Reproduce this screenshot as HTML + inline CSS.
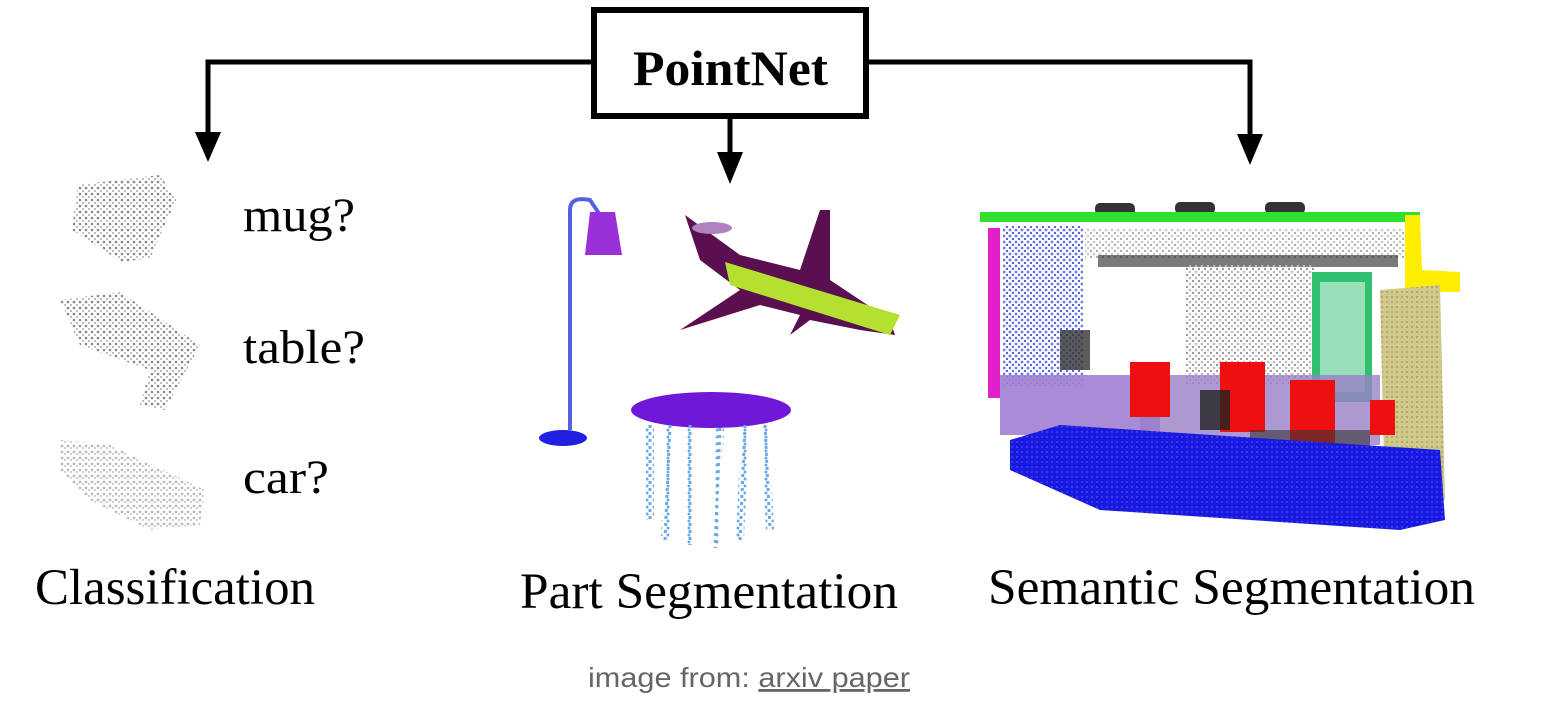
<!DOCTYPE html>
<html><head><meta charset="utf-8"><style>
html,body{margin:0;padding:0;background:#fff;width:1546px;height:716px;overflow:hidden}
svg{position:absolute;left:0;top:0}
.t{font-family:"Liberation Serif",serif;fill:#000}
</style></head><body>
<svg width="1546" height="716" viewBox="0 0 1546 716">
<defs>
<pattern id="dg" width="6" height="6" patternUnits="userSpaceOnUse"><circle cx="2" cy="2" r="1.3" fill="#888"/><circle cx="5" cy="5" r="1" fill="#aaa"/></pattern>
<pattern id="dl" width="6" height="6" patternUnits="userSpaceOnUse"><circle cx="2" cy="2" r="1.4" fill="#bbb"/><circle cx="5" cy="4" r="1.1" fill="#ccc"/></pattern>
<pattern id="blu" width="5" height="5" patternUnits="userSpaceOnUse"><rect width="5" height="5" fill="#1a1adf"/><circle cx="2" cy="2" r="1" fill="#4040ff"/></pattern>
<pattern id="lb" width="6" height="6" patternUnits="userSpaceOnUse"><circle cx="2" cy="2" r="1.4" fill="#6a78e8"/><circle cx="5" cy="5" r="1.2" fill="#5060e0"/></pattern>
<pattern id="gr" width="6" height="6" patternUnits="userSpaceOnUse"><circle cx="2" cy="2" r="1.3" fill="#bbb"/><circle cx="5" cy="5" r="1.2" fill="#999"/></pattern>
<pattern id="ol" width="5" height="5" patternUnits="userSpaceOnUse"><rect width="5" height="5" fill="#cfc98a"/><circle cx="2" cy="2" r="1" fill="#a8a060"/></pattern>
<pattern id="lbl" width="7" height="7" patternUnits="userSpaceOnUse"><circle cx="3" cy="3" r="1.5" fill="#6aa8e8"/></pattern>
</defs>
<g stroke="#000" stroke-width="5" fill="none">
<polyline points="594,62 208,62 208,138"/>
<polyline points="866,62 1250,62 1250,140"/>
<line x1="730" y1="116" x2="730" y2="158"/>
</g>
<polygon points="195,132 221,132 208,162" fill="#000"/>
<polygon points="1237,134 1263,134 1250,165" fill="#000"/>
<polygon points="717,152 743,152 730,184" fill="#000"/>
<rect x="594" y="10" width="272" height="106" fill="#fff" stroke="#000" stroke-width="6"/>
<text x="633" y="85" class="t" font-size="50" font-weight="bold" textLength="195" lengthAdjust="spacingAndGlyphs">PointNet</text>
<path d="M78,185 L160,175 L176,200 L150,258 L122,262 L72,230 Z" fill="url(#dg)"/>
<path d="M60,300 L120,292 L200,345 L165,410 L140,405 L150,370 L80,345 Z" fill="url(#dg)"/>
<path d="M60,440 L110,445 L205,490 L200,525 L150,530 L90,500 L60,470 Z" fill="url(#dl)"/>
<text x="243" y="231" class="t" font-size="48" textLength="112" lengthAdjust="spacingAndGlyphs">mug?</text>
<text x="243" y="363" class="t" font-size="48" textLength="122" lengthAdjust="spacingAndGlyphs">table?</text>
<text x="243" y="493" class="t" font-size="48" textLength="86" lengthAdjust="spacingAndGlyphs">car?</text>
<text x="35" y="604" class="t" font-size="51" textLength="280" lengthAdjust="spacingAndGlyphs">Classification</text>
<path d="M570,430 L570,210 Q570,196 590,200 L600,215" stroke="#5560e0" stroke-width="4" fill="none"/>
<path d="M590,212 L615,212 L622,255 L585,255 Z" fill="#9a30d8"/>
<ellipse cx="563" cy="438" rx="24" ry="8" fill="#2020e0"/>
<path d="M685,215 L740,255 L800,270 L820,210 L830,210 L830,280 L890,320 L895,335 L860,330 L810,320 L790,335 L800,315 L760,305 L680,330 L740,290 L700,260 Z" fill="#5a1050"/>
<path d="M725,262 L900,315 L890,335 L730,285 Z" fill="#b4e030"/>
<ellipse cx="712" cy="228" rx="20" ry="6" fill="#b080c0"/>
<ellipse cx="711" cy="410" rx="80" ry="18" fill="#7018d8"/>
<path d="M650,425 L650,520 M670,425 L665,540 M690,425 L690,545 M720,428 L715,548 M745,425 L740,540 M765,425 L770,530" stroke="url(#lbl)" stroke-width="8" fill="none"/>
<g stroke="#6aa8e8" stroke-width="3" stroke-dasharray="3,4" fill="none"><path d="M650,425 L650,520 M670,425 L665,540 M690,425 L690,545 M720,428 L715,548 M745,425 L740,540 M765,425 L770,530"/></g>
<text x="520" y="608" class="t" font-size="51" textLength="378" lengthAdjust="spacingAndGlyphs">Part Segmentation</text>
<rect x="1095" y="203" width="40" height="12" rx="5" fill="#333"/>
<rect x="1175" y="202" width="40" height="12" rx="5" fill="#333"/>
<rect x="1265" y="202" width="40" height="12" rx="5" fill="#333"/>
<rect x="980" y="212" width="440" height="10" fill="#30e030"/>
<path d="M1405,215 L1420,215 L1422,270 L1460,272 L1460,292 L1405,292 Z" fill="#ffee00"/>
<rect x="988" y="228" width="12" height="170" fill="#e020c8"/>
<rect x="1003" y="226" width="80" height="160" fill="url(#lb)"/>
<rect x="1085" y="228" width="320" height="30" fill="url(#gr)" opacity="0.8"/>
<rect x="1098" y="255" width="300" height="12" fill="#222" opacity="0.6"/>
<rect x="1185" y="265" width="130" height="120" fill="url(#gr)"/>
<rect x="1312" y="272" width="60" height="130" fill="#30c070"/>
<rect x="1320" y="282" width="45" height="110" fill="#fff" opacity="0.5"/>
<path d="M1380,290 L1440,285 L1445,500 L1385,505 Z" fill="url(#ol)"/>
<rect x="1000" y="375" width="160" height="60" fill="#a080d0" opacity="0.9"/>
<rect x="1140" y="375" width="240" height="70" fill="#9a80c8" opacity="0.8"/>
<rect x="1130" y="362" width="40" height="55" fill="#ee1010"/>
<rect x="1220" y="362" width="45" height="70" fill="#ee1010"/>
<rect x="1290" y="380" width="45" height="65" fill="#ee1010"/>
<rect x="1370" y="400" width="25" height="35" fill="#ee1010"/>
<rect x="1060" y="330" width="30" height="40" fill="#333" opacity="0.8"/>
<rect x="1200" y="390" width="30" height="40" fill="#222" opacity="0.8"/>
<rect x="1250" y="430" width="120" height="20" fill="#333" opacity="0.6"/>
<path d="M1010,440 L1060,425 L1440,450 L1445,520 L1400,530 L1100,510 L1010,470 Z" fill="url(#blu)"/>
<text x="988" y="604" class="t" font-size="51" textLength="487" lengthAdjust="spacingAndGlyphs">Semantic Segmentation</text>
<text x="588" y="687" font-family="Liberation Sans, sans-serif" font-size="28" fill="#666" textLength="322" lengthAdjust="spacingAndGlyphs">image from: <tspan text-decoration="underline">arxiv paper</tspan></text>
</svg>
</body></html>
